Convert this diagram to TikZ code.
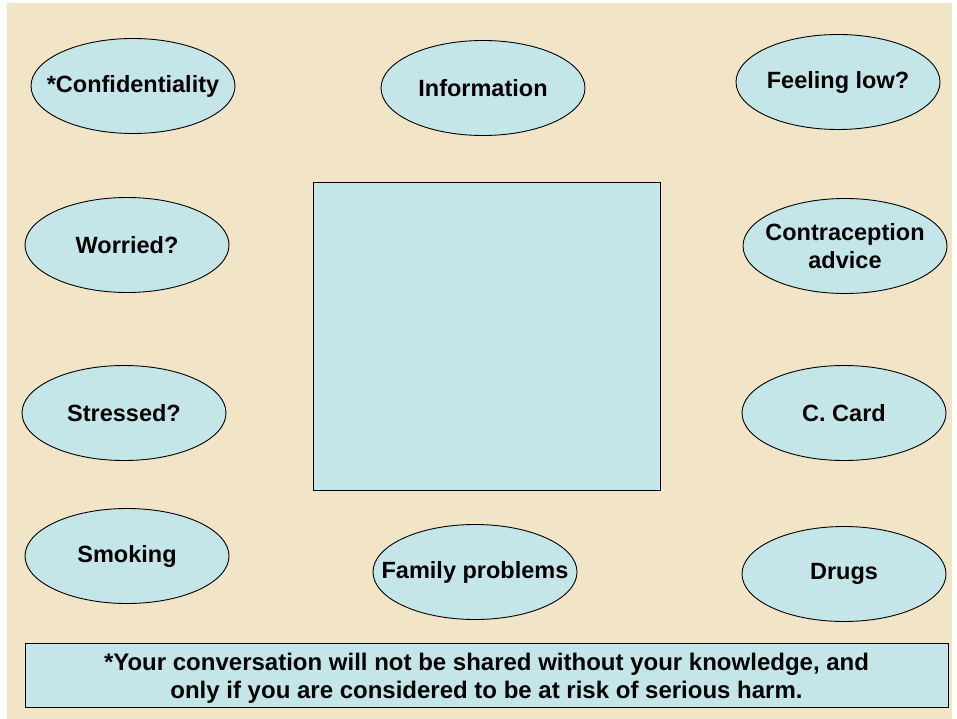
\documentclass[tikz,border=0pt]{standalone}
\usepackage{fontspec}
\setmainfont{Liberation Sans}
\usetikzlibrary{shapes.geometric}
\definecolor{parchment}{RGB}{242, 228, 198}
\definecolor{pale_cyan}{RGB}{196, 230, 232}
\tikzstyle{topic}=[ellipse,fill=pale_cyan,draw=black,line width=0.9pt,
  inner xsep=-25pt,inner ysep=0pt,minimum width=204pt,minimum height=95pt,align=center,
  font=\fontsize{23.5}{28}\selectfont\bfseries]
\tikzstyle{panel}=[rectangle,fill=pale_cyan,draw=black,line width=1pt,inner sep=0pt]
\tikzstyle{none}=[]

\begin{document}
\begin{tikzpicture}[x=1pt, y=-1pt]
            \useasboundingbox (0, 0) rectangle (957, 719);
            \fill [white] (0, 0) rectangle (957, 719);
            \fill [parchment] (7, 3) rectangle (952, 719);
            % topics round the empty centre panel
            \node [style=topic] (conf) at (133, 86) {*Confidentiality};
            \node [style=topic] (info) at (483, 88) {Information};
            \node [style=topic] (low) at (838, 82) {Feeling low?};
            \node [style=topic] (worried) at (127, 245) {Worried?};
            \node [style=topic] (contra) at (845, 246) {Contraception\\advice};
            \node [style=topic] (stressed) at (124, 413) {Stressed?};
            \node [style=topic] (ccard) at (844, 413) {C. Card};
            \node [style=topic] (smoking) at (127, 556) {Smoking};
            \node [style=topic] (family) at (475, 572) {Family problems};
            \node [style=topic] (drugs) at (844, 574) {Drugs};
            \node [style=panel, minimum width=347pt, minimum height=307pt] (centre) at (486.5, 336.5) {};
            % footnote strip along the bottom
            \node [style=panel, minimum width=923pt, minimum height=64pt] (note) at (486.5, 675) {};
            \node [style=none, align=center, font=\fontsize{24}{28}\selectfont\bfseries,
              yshift=-3pt] (notetext) at (note.center)
              {*Your conversation will not be shared without your knowledge, and\\
               only if you are considered to be at risk of serious harm.};
\end{tikzpicture}
\end{document}
